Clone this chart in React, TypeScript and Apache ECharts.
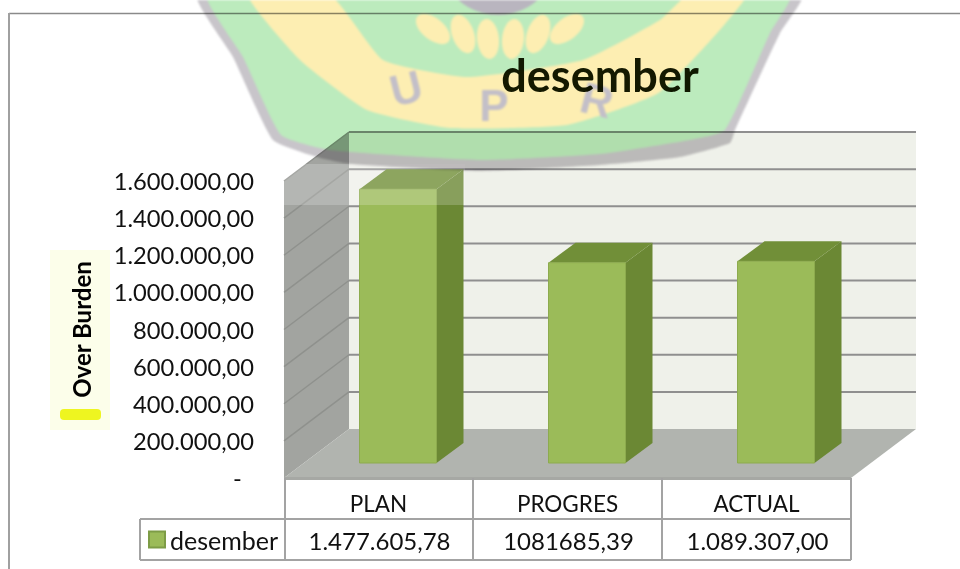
import React, { useEffect, useRef } from "react";
import * as echarts from "echarts";

const categories = ["PLAN", "PROGRES", "ACTUAL"];
const seriesName = "desember";
const values = [1477605.78, 1081685.39, 1089307.0];
const valueLabels = ["1.477.605,78", "1081685,39", "1.089.307,00"];
const yTicks = [0, 200000, 400000, 600000, 800000, 1000000, 1200000, 1400000, 1600000];
const yTickLabels = ["-\u00a0\u00a0", "200.000,00", "400.000,00", "600.000,00", "800.000,00", "1.000.000,00", "1.200.000,00", "1.400.000,00", "1.600.000,00"];

const FONT = "Lato";
const DEPTH_X = 65;
const DEPTH_Y = 49;
const TABLE = "#a3a3a3";

function renderWalls(params: any, api: any) {
  const g = params.coordSys;
  const y = api.coord([0, api.value(1)])[1];
  const left = g.x;
  const right = g.x + g.width;
  const bottom = g.y + g.height;
  const children: any[] = [];
  if (params.dataIndex === 0) {
    children.push(
      { type: "polygon", shape: { points: [[left + DEPTH_X, g.y - DEPTH_Y], [right + DEPTH_X, g.y - DEPTH_Y], [right + DEPTH_X, bottom - DEPTH_Y], [left + DEPTH_X, bottom - DEPTH_Y]] }, style: { fill: "#eff1ea" } },
      { type: "polygon", shape: { points: [[left, g.y], [left + DEPTH_X, g.y - DEPTH_Y], [left + DEPTH_X, bottom - DEPTH_Y], [left, bottom]] }, style: { fill: "#a2a4a0" } },
      { type: "polygon", shape: { points: [[left, bottom], [left + DEPTH_X, bottom - DEPTH_Y], [right + DEPTH_X, bottom - DEPTH_Y], [right, bottom]] }, style: { fill: "#b1b4af" } },
      { type: "rect", shape: { x: left, y: bottom - 1, width: g.width, height: 3 }, style: { fill: "#a6a8a4" } }
    );
  }
  if (api.value(1) > 0) {
    children.push(
      { type: "line", shape: { x1: left, y1: y, x2: left + DEPTH_X, y2: y - DEPTH_Y }, style: { stroke: "#8f918d", lineWidth: 1.5 } },
      { type: "line", shape: { x1: left + DEPTH_X, y1: y - DEPTH_Y, x2: right + DEPTH_X, y2: y - DEPTH_Y }, style: { stroke: "#8f8f8f", lineWidth: 2 } }
    );
  }
  return { type: "group", children };
}

function renderBars(_params: any, api: any) {
  const top = api.coord([api.value(0), api.value(1)]);
  const base = api.coord([api.value(0), 0]);
  const hw = 38.5;
  const cx = top[0] + 19.5;
  const ty = top[1] - 14.5;
  const by = base[1] - 15;
  const dx = 27;
  const dy = 20;
  return {
    type: "group",
    children: [
      { type: "polygon", shape: { points: [[cx + hw, ty], [cx + hw + dx, ty - dy], [cx + hw + dx, by - dy], [cx + hw, by]] }, style: { fill: "#6b8834" } },
      { type: "polygon", shape: { points: [[cx - hw, ty], [cx - hw + dx, ty - dy], [cx + hw + dx, ty - dy], [cx + hw, ty]] }, style: { fill: "#718f38" } },
      { type: "rect", shape: { x: cx - hw, y: ty, width: hw * 2, height: by - ty }, style: { fill: "#9bbb59", stroke: "#8dab4e", lineWidth: 1 } },
    ],
  };
}

const wmOuter = [[198, -5], [233, 57], [273, 140], [317, 157], [350, 164], [480, 171], [600, 165], [680, 157], [730, 143], [735, 130], [780, 33], [802, -5]];
const wmGreen = [[208, -5], [243, 57], [281, 135], [330, 150], [480, 160], [600, 154], [690, 140], [725, 130], [770, 33], [790, -5]];
const wmYellow = [[248, -5], [300, 60], [367, 110], [450, 128], [567, 125], [660, 92], [747, -5], [688, -5], [660, 20], [583, 60], [467, 77], [383, 60], [330, -5]];
const wmFingers = [[433, 25, 0.9], [463, 30, 0.35], [488, 35, 0.1], [513, 35, -0.1], [538, 30, -0.35], [567, 25, -0.9]];
const wmLetters = [["U", 406, 88, 0.25], ["P", 494, 105, 0], ["R", 597, 100, -0.25]];

export default function App() {
  const chartRef = useRef<HTMLDivElement>(null);
  const markRef = useRef<HTMLDivElement>(null);

  useEffect(() => {
    document.body.style.margin = "0";
    const chart = echarts.init(chartRef.current!, undefined, { renderer: "svg" });
    const labelStyle = { fontFamily: FONT, fontSize: 23.7, color: "#111" };
    const tableLines: [number, number, number, number][] = [
      [285, 478, 285, 560], [473, 478, 473, 560], [662, 478, 662, 560], [851, 478, 851, 560],
      [140, 519, 851, 519], [140, 560, 851, 560], [140, 519, 140, 560],
    ];
    chart.setOption({
      animation: false,
      backgroundColor: "#fff",
      title: {
        text: "desember",
        left: 595,
        top: 47,
        textAlign: "center",
        textStyle: { fontFamily: FONT, fontSize: 45, fontWeight: "bold", color: "#141a00" },
      },
      legend: {
        data: [seriesName],
        left: 148,
        top: 527,
        padding: 0,
        icon: "rect",
        itemWidth: 16,
        itemHeight: 16,
        itemGap: 6,
        selectedMode: false,
        textStyle: { fontFamily: FONT, fontSize: 25, color: "#111" },
      },
      grid: { left: 284, top: 181, width: 567, height: 297 },
      xAxis: {
        type: "category",
        data: categories,
        axisLine: { show: false },
        axisTick: { show: false },
        axisLabel: { fontFamily: FONT, fontSize: 22.5, color: "#111", margin: 14 },
      },
      yAxis: {
        type: "value",
        min: 0,
        max: 1600000,
        interval: 200000,
        name: "Over Burden",
        nameLocation: "middle",
        nameGap: 191,
        nameRotate: 90,
        nameTextStyle: { fontFamily: FONT, fontSize: 24, fontWeight: "bold", color: "#000" },
        axisLine: { show: false },
        axisTick: { show: false },
        splitLine: { show: false },
        axisLabel: {
          ...labelStyle,
          margin: 30,
          formatter: (v: number) => yTickLabels[yTicks.indexOf(v)],
        },
      },
      series: [
        {
          type: "custom",
          name: "walls",
          z: 1,
          clip: false,
          silent: true,
          renderItem: renderWalls,
          data: yTicks.map((v, i) => [i % 3, v]),
          encode: { x: 0, y: 1 },
        },
        {
          type: "custom",
          name: seriesName,
          z: 2,
          clip: false,
          itemStyle: { color: "#9bbb59", borderColor: "#7d9c46", borderWidth: 1.5 },
          renderItem: renderBars,
          data: values.map((v, i) => [i, v]),
          encode: { x: 0, y: 1 },
        },
      ],
      graphic: [
        { type: "line", z: 0, shape: { x1: 9, y1: 13.5, x2: 960, y2: 13.5 }, style: { stroke: "#8a8a8a", lineWidth: 1.5 } },
        { type: "line", z: 0, shape: { x1: 9, y1: 13, x2: 9, y2: 569 }, style: { stroke: "#a0a0a0", lineWidth: 2 } },
        { type: "rect", z: 0, shape: { x: 50, y: 250, width: 60, height: 180 }, style: { fill: "#fcfeea" } },
        { type: "rect", z: 0, shape: { x: 60, y: 409, width: 41, height: 11, r: 4 }, style: { fill: "#eef520" } },
        { type: "rect", z: 100, shape: { x: 284, y: 164, width: 181, height: 41 }, style: { fill: "rgba(255,255,255,0.2)" } },
        ...tableLines.map(([x1, y1, x2, y2]) => ({ type: "line", z: 50, shape: { x1, y1, x2, y2 }, style: { stroke: TABLE, lineWidth: 2 } })),
        ...valueLabels.map((t, i) => ({
          type: "text",
          z: 50,
          x: 379.5 + i * 189,
          y: 540,
          style: { text: t, fontFamily: FONT, fontSize: 24, fill: "#111", textAlign: "center", textVerticalAlign: "middle" },
        })),
      ],
    });

    const mark = echarts.init(markRef.current!, undefined, { renderer: "svg" });
    mark.setOption({
      animation: false,
      graphic: [
        { type: "polygon", z: 1, shape: { points: wmOuter, smooth: 0.15 }, style: { fill: "#c8c5ca" } },
        { type: "polygon", z: 2, shape: { points: wmGreen, smooth: 0.15 }, style: { fill: "#bcebbd" } },
        { type: "polygon", z: 3, shape: { points: wmYellow, smooth: 0.15 }, style: { fill: "#fdeeb2" } },
        { type: "circle", z: 4, shape: { cx: 498, cy: -45, r: 60 }, style: { fill: "#b9b5bf" } },
        ...wmFingers.map(([cx, cy, rot]) => ({
          type: "ellipse", z: 5, x: cx, y: cy + 4, rotation: rot, shape: { cx: 0, cy: 0, rx: 11, ry: 20 }, style: { fill: "#fdeeb2" },
        })),
        ...wmLetters.map(([t, x, y, rot]) => ({
          type: "text", z: 6, x, y, rotation: rot,
          style: { text: t, fontFamily: "Liberation Sans", fontWeight: "bold", fontSize: 44, fill: "#c3bfc8", textAlign: "center", textVerticalAlign: "middle" },
        })),
      ],
    });

    return () => {
      chart.dispose();
      mark.dispose();
    };
  }, []);

  return (
    <div style={{ position: "absolute", left: 0, top: 0, width: 960, height: 569, overflow: "hidden" }}>
      <div ref={chartRef} style={{ position: "absolute", left: 0, top: 0, width: 960, height: 569 }} />
      <div ref={markRef} style={{ position: "absolute", left: 0, top: 0, width: 960, height: 569, mixBlendMode: "multiply", filter: "blur(1.2px)", pointerEvents: "none" }} />
    </div>
  );
}
